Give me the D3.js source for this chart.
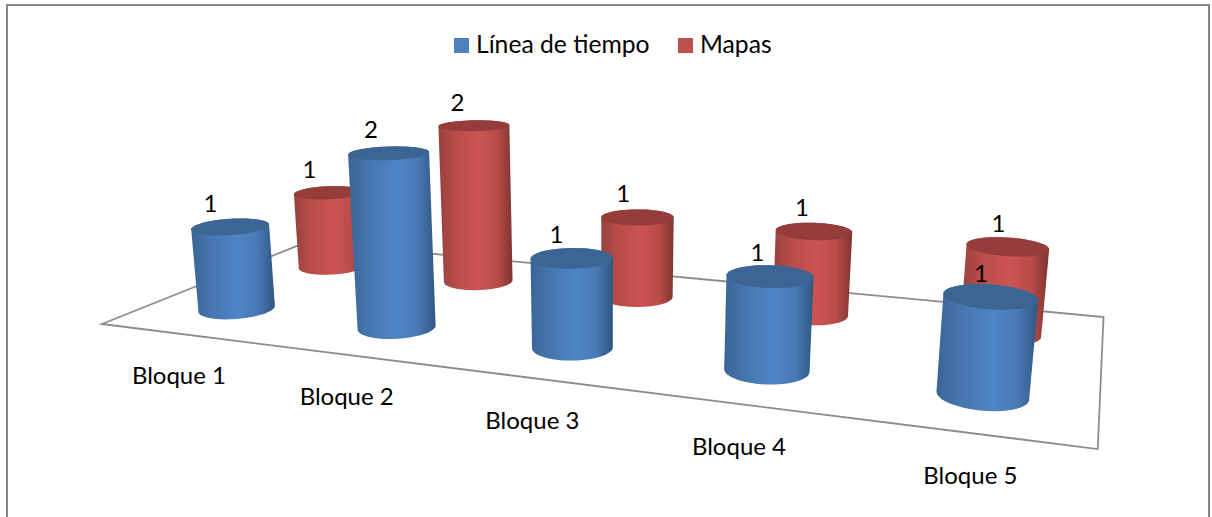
<!DOCTYPE html>
<html><head><meta charset="utf-8">
<script src="https://cdnjs.cloudflare.com/ajax/libs/d3/7.8.5/d3.min.js"></script>
<style>html,body{margin:0;padding:0;background:#fff}svg{display:block}text{font-family:Lato,"Open Sans",sans-serif;fill:#000}</style>
</head><body><svg id="c" width="1212" height="517"></svg>
<script>
const categories = ["Bloque 1","Bloque 2","Bloque 3","Bloque 4","Bloque 5"];
const seriesNames = ["Línea de tiempo","Mapas"];
const lineaDeTiempo = [1,2,1,1,1];
const mapas = [1,2,1,1,1];

const svg = d3.select("#c");
const W=1212,H=517;
svg.append("rect").attr("x",7).attr("y",5).attr("width",1202).attr("height",H).attr("fill","#fff").attr("stroke","#868686").attr("stroke-width",2);

// chart scales in floor space, then a perspective camera
const uScale = d3.scaleBand().domain(categories).range([0,1]);
const vScale = d3.scaleBand().domain(seriesNames).range([0,1]);
const hScale = d3.scaleLinear().domain([0,1]).range([0,-0.0178]);
const cam = {a:737,b:282.3,c:102,d:19.2,e:-21.1,f:324,g:-0.2357,h:0.2518,vx:610,vy:5000};
function project(u,v,t){
  const w0=1+cam.g*u+cam.h*v;
  const w=w0+t;
  return [(cam.a*u+cam.b*v+cam.c+t*cam.vx)/w,(cam.d*u+cam.e*v+cam.f+t*cam.vy)/w];
}
const ru=0.0405, rv=0.105;
const angles=d3.range(0,360,6).map(a=>a*Math.PI/180);
const ring=(u,v,t)=>angles.map(a=>project(u+ru*Math.cos(a),v+rv*Math.sin(a),t));
const line=d3.line().curve(d3.curveLinearClosed);

// gradients
const defs=svg.append("defs");
const palette={
 "Línea de tiempo":{stops:["#3a6496","#4675ad","#4f84c6","#4879b4","#2f5682"],top:"#3d6594"},
 "Mapas":{stops:["#96403d","#b84c49","#cb5452","#b84c49","#7f3331"],top:"#953d3b"}
};
const stopAt=[0,.22,.55,.8,1];
seriesNames.forEach((s,i)=>{
  const g=defs.append("linearGradient").attr("id","g"+i);
  palette[s].stops.forEach((c,j)=>g.append("stop").attr("offset",stopAt[j]).attr("stop-color",c));
});

// floor
const floor=[[0,0],[1,0],[1,1],[0,1]].map(p=>project(p[0],p[1],0));
svg.append("path").attr("d",line(floor)).attr("fill","#fff").attr("stroke","#8c8c8c").attr("stroke-width",1.8).attr("stroke-linejoin","miter");

// cylinders: back row first, then left to right
const marks=[];
[mapas,lineaDeTiempo].forEach(arr=>{
  const s=arr===mapas?"Mapas":"Línea de tiempo";
  arr.forEach((val,i)=>marks.push({s,val,cat:categories[i]}));
});
const gC=svg.append("g");
marks.forEach(m=>{
  const u=uScale(m.cat)+uScale.bandwidth()/2, v=vScale(m.s)+vScale.bandwidth()/2, t=hScale(m.val);
  const hull=d3.polygonHull(ring(u,v,0).concat(ring(u,v,t)));
  gC.append("path").attr("d",line(hull)).attr("fill",`url(#g${seriesNames.indexOf(m.s)})`);
  gC.append("path").attr("d",line(ring(u,v,t))).attr("fill",palette[m.s].top);
  m.top=project(u,v,t);
});
// value labels
svg.append("g").selectAll("text").data(marks).join("text")
  .attr("x",d=>d.top[0]-20+(d.top[0]-230)*0.014).attr("y",d=>d.top[1]-24.5)
  .attr("text-anchor","middle").attr("dominant-baseline","central").attr("font-size",24).text(d=>d.val);
// category labels
svg.append("g").selectAll("text").data(categories).join("text")
  .attr("x",d=>project(uScale(d)+uScale.bandwidth()/2,0,0)[0]-1)
  .attr("y",d=>project(uScale(d)+uScale.bandwidth()/2,0,0)[1]+41)
  .attr("text-anchor","middle").attr("dominant-baseline","central").attr("font-size",24).text(d=>d);
// legend
const legendX=d3.scaleOrdinal().domain(seriesNames).range([454,678]);
const lg=svg.append("g").selectAll("g").data(seriesNames).join("g").attr("transform",d=>`translate(${legendX(d)},38)`);
lg.append("rect").attr("width",15).attr("height",15).attr("fill",(d,i)=>i?"#c0504d":"#4f81bd");
lg.append("text").attr("x",22).attr("y",15).attr("font-size",24.7).text(d=>d);
</script></body></html>
